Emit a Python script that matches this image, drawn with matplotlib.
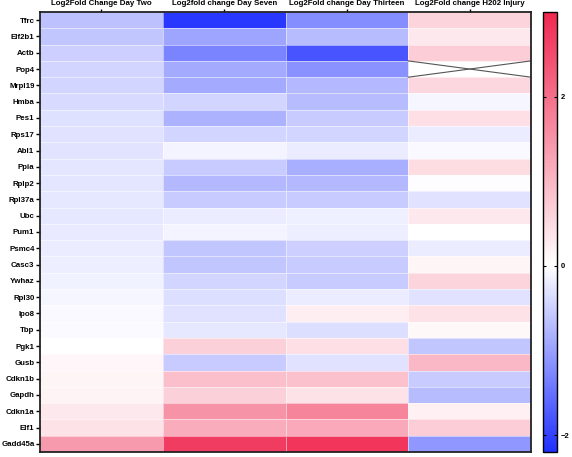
import numpy as np
import matplotlib
matplotlib.use("Agg")
import matplotlib.pyplot as plt
from matplotlib.colors import LinearSegmentedColormap, Normalize

plt.rcParams["font.family"] = ["Liberation Sans", "DejaVu Sans"]
plt.rcParams["font.weight"] = "bold"

genes = ["Tfrc", "Elf2b1", "Actb", "Pop4", "Mrpl19", "Hmba", "Pes1", "Rps17",
         "Abl1", "Ppia", "Rplp2", "Rpl37a", "Ubc", "Pum1", "Psmc4", "Casc3",
         "Ywhaz", "Rpl30", "Ipo8", "Tbp", "Pgk1", "Gusb", "Cdkn1b", "Gapdh",
         "Cdkn1a", "Elf1", "Gadd45a"]
columns = ["Log2Fold Change Day Two", "Log2fold change Day Seven",
           "Log2Fold change Day Thirteen", "Log2Fold change H202 Injury"]

day_two = [-0.65, -0.6, -0.5, -0.45, -0.45, -0.38, -0.32, -0.3, -0.28, -0.27,
           -0.26, -0.25, -0.24, -0.22, -0.2, -0.17, -0.14, -0.1, -0.06, -0.04,
           0.0, 0.12, 0.14, 0.16, 0.3, 0.4, 1.4]
day_seven = [-2.1, -0.95, -1.3, -0.9, -0.9, -0.45, -0.8, -0.45, -0.12, -0.55,
             -0.75, -0.55, -0.2, -0.12, -0.6, -0.6, -0.45, -0.35, -0.3, -0.25,
             0.65, -0.55, 0.9, 0.65, 1.5, 1.15, 2.7]
day_thirteen = [-1.2, -0.7, -1.8, -1.15, -0.75, -0.7, -0.55, -0.45, -0.2, -0.85,
                -0.75, -0.55, -0.15, -0.18, -0.5, -0.55, -0.55, -0.2, 0.25, -0.35,
                0.45, -0.3, 0.85, 0.4, 1.7, 1.2, 2.8]
h2o2 = [0.6, 0.3, 0.7, np.nan, 0.55, -0.1, 0.45, -0.2, -0.05, 0.5,
        -0.02, -0.3, 0.3, 0.0, -0.2, 0.15, 0.6, -0.3, 0.4, 0.1,
        -0.6, 1.0, -0.55, -0.7, 0.2, 0.7, -1.1]

vmin, vmax = -2.2, 3.0

data = np.array([day_two, day_seven, day_thirteen, h2o2]).T
mid = (0 - vmin) / (vmax - vmin)
cmap = LinearSegmentedColormap.from_list(
    "bwr_custom", [(0, "#2030ff"), (mid, "#ffffff"), (1, "#f02850")])
norm = Normalize(vmin=vmin, vmax=vmax)

fig = plt.figure(figsize=(5.72, 4.57), dpi=100)
ax = fig.add_axes([40 / 572, 5 / 457, 491 / 572, 440 / 457])
cax = fig.add_axes([543 / 572, 5 / 457, 14 / 572, 440 / 457])

mesh = ax.pcolormesh(np.ma.masked_invalid(data), cmap=cmap, norm=norm,
                     edgecolors=(1, 1, 1, 0.5), linewidth=0.4)
ax.set_xlim(0, len(columns))
ax.set_ylim(len(genes), 0)

# cross through missing cells
for r, c in zip(*np.where(np.isnan(data))):
    ax.plot([c, c + 1], [r, r + 1], color="#555555", lw=0.8)
    ax.plot([c, c + 1], [r + 1, r], color="#555555", lw=0.8)

ax.set_yticks(np.arange(len(genes)) + 0.5)
ax.set_yticklabels(genes, fontsize=5.7, fontweight="bold")
ax.set_xticks(np.arange(len(columns)) + 0.5)
ax.set_xticklabels(columns, fontsize=5.7, fontweight="bold")
ax.xaxis.tick_top()
ax.tick_params(axis="y", length=3, width=1, pad=1)
ax.tick_params(axis="x", length=2.5, width=1, pad=1)
for s in ax.spines.values():
    s.set_linewidth(1.3)
    s.set_color("#222222")

cb = fig.colorbar(mesh, cax=cax)
cb.set_ticks([-2, 0, 2])
cb.ax.tick_params(labelsize=5.5, length=2.5, width=0.8, direction="in",
                  left=True, right=True, pad=3)
cb.outline.set_linewidth(1.0)

fig.savefig("out.png", dpi=100)
